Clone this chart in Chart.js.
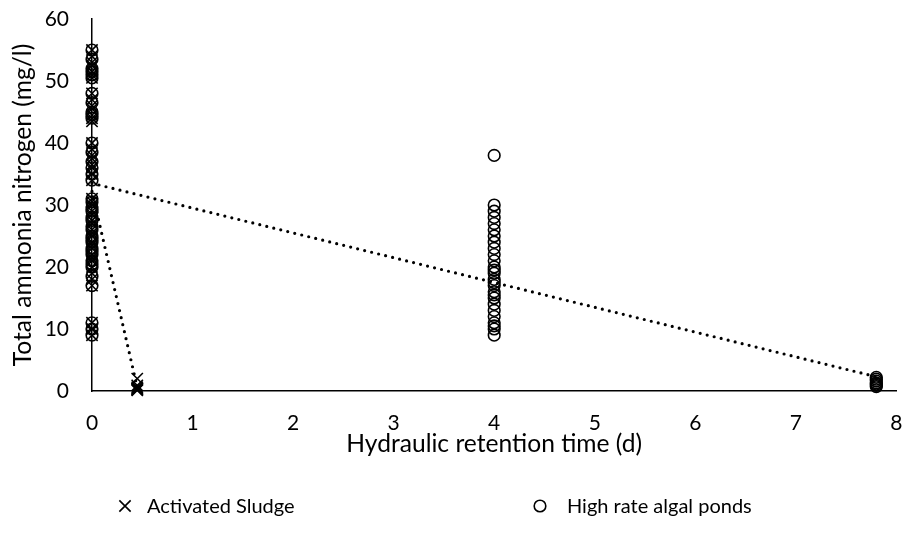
<!DOCTYPE html>
<html>
<head>
<meta charset="utf-8">
<script src="https://cdn.jsdelivr.net/npm/chart.js@4/dist/chart.umd.min.js"></script>
<style>
  html, body { margin: 0; padding: 0; background: #fff; }
  #wrap { width: 906px; height: 533px; }
</style>
</head>
<body>
<div id="wrap"><canvas id="c" width="906" height="533"></canvas></div>
<script>
// Hydraulic retention times (d) of each sampling point
const asHrt = [0, 0.45];
const hrapHrt = [0, 4, 7.8];

// Total ammonia nitrogen (mg/l), activated sludge
const asInfluent = [55, 54, 53, 52.5, 51.5, 51, 50.5, 48, 47, 46, 45.5, 44.5, 44, 43.5,
                    40, 39, 38, 37.5, 36.5, 36, 35, 34,
                    31, 30.5, 30, 29, 28.5, 27.5, 27, 26, 25.5, 25, 24, 23.5, 23, 22, 21.5, 21, 20, 19, 18, 17,
                    11, 10, 9];
const asEffluent = [2.0, 0.9, 0.6, 0.4, 0.3, 0.2, 0.1];

// Total ammonia nitrogen (mg/l), high rate algal ponds
const hrapInfluent = [55, 53.5, 52, 51.5, 51, 50.5, 48, 46.5, 45, 44.5, 44,
                      40, 38.5, 37, 36, 35, 34,
                      31, 30.5, 29.5, 29, 28, 27.5, 26.5, 26, 25, 24.5, 24, 23, 22.5, 22, 21, 20.5, 20, 18.5, 17,
                      11, 10, 9];
const hrapMid = [38, 30, 29, 28, 27, 26, 25, 24, 23, 22, 21, 20, 19.5, 19, 18, 17.5, 17, 16, 15.5, 15, 14, 13, 12, 11, 10.5, 10, 9];
const hrapEffluent = [2.2, 1.9, 1.6, 1.3, 1.1, 0.9, 0.7];

// Linear trend end points (value at first and last HRT)
const asTrend = [32.2, 0.6];
const hrapTrend = [33.5, 2.3];

// Axis ticks
const xTicks = [0, 1, 2, 3, 4, 5, 6, 7, 8];
const yTicks = [0, 10, 20, 30, 40, 50, 60];

const seriesNames = ['Activated Sludge', 'High rate algal ponds'];
const FONT = 'Lato, "Open Sans", sans-serif';
const INK = '#000';

const pts = (xv, arr) => arr.map(v => ({ x: xv, y: v }));

const asPoints = [...pts(asHrt[0], asInfluent), ...pts(asHrt[1], asEffluent)];
const hrapPoints = [...pts(hrapHrt[0], hrapInfluent), ...pts(hrapHrt[1], hrapMid), ...pts(hrapHrt[2], hrapEffluent)];

const trendStyle = {
  type: 'line',
  borderColor: INK,
  borderWidth: 3.2,
  borderDash: [0, 7.2],
  borderCapStyle: 'round',
  pointRadius: 0,
  fill: false,
  order: 0,
  clip: false
};

// Legend drawn below the x-axis title
const bottomLegend = {
  id: 'bottomLegend',
  afterDraw(chart) {
    const ctx = chart.ctx;
    const y = 506;
    const items = [
      { style: 'crossRot', r: 8, mx: 125, tx: 147, text: seriesNames[0] },
      { style: 'circle', r: 5.8, mx: 540, tx: 567, text: seriesNames[1] }
    ];
    ctx.save();
    items.forEach(it => {
      ctx.strokeStyle = INK;
      ctx.fillStyle = 'rgba(0,0,0,0)';
      ctx.lineWidth = 1.6;
      Chart.helpers.drawPoint(ctx, { pointStyle: it.style, radius: it.r, borderWidth: 1.6, rotation: 0 }, it.mx, y);
      ctx.fillStyle = INK;
      ctx.font = '20px ' + FONT;
      ctx.textAlign = 'left';
      ctx.textBaseline = 'middle';
      ctx.fillText(it.text, it.tx, y + 1);
    });
    ctx.restore();
  }
};

new Chart(document.getElementById('c'), {
  type: 'scatter',
  data: {
    datasets: [
      {
        label: seriesNames[0],
        data: asPoints,
        pointStyle: 'crossRot',
        pointRadius: 8,
        pointBorderWidth: 1.6,
        pointBorderColor: INK,
        pointBackgroundColor: 'rgba(0,0,0,0)',
        order: 1,
        clip: false
      },
      {
        label: seriesNames[1],
        data: hrapPoints,
        pointStyle: 'circle',
        pointRadius: 5.8,
        pointBorderWidth: 1.6,
        pointBorderColor: INK,
        pointBackgroundColor: 'rgba(0,0,0,0)',
        order: 1,
        clip: false
      },
      Object.assign({ label: 'trend AS', data: [{ x: asHrt[0], y: asTrend[0] }, { x: asHrt[1], y: asTrend[1] }] }, trendStyle),
      Object.assign({ label: 'trend HRAP', data: [{ x: hrapHrt[0], y: hrapTrend[0] }, { x: hrapHrt[2], y: hrapTrend[1] }] }, trendStyle)
    ]
  },
  options: {
    responsive: false,
    animation: false,
    devicePixelRatio: 1,
    layout: { padding: { left: 0, top: 19, right: 9, bottom: 0 } },
    plugins: { legend: { display: false }, tooltip: { enabled: false } },
    scales: {
      x: {
        type: 'linear',
        min: xTicks[0],
        max: xTicks[xTicks.length - 1],
        afterBuildTicks: s => { s.ticks = xTicks.map(v => ({ value: v })); },
        afterFit: s => { s.height = 142; s.paddingLeft = 0; s.paddingRight = 0; },
        grid: { display: false, drawTicks: false },
        border: { display: true, color: INK, width: 1.5 },
        ticks: { color: INK, font: { family: FONT, size: 21 }, padding: 20, maxRotation: 0 },
        title: {
          display: true,
          text: 'Hydraulic retention time (d)',
          color: INK,
          font: { family: FONT, size: 24.6 },
          padding: { top: 0, bottom: 74 }
        }
      },
      y: {
        type: 'linear',
        min: yTicks[0],
        max: yTicks[yTicks.length - 1],
        afterBuildTicks: s => { s.ticks = yTicks.map(v => ({ value: v })); },
        afterFit: s => { s.width = 92; s.paddingTop = 0; s.paddingBottom = 0; },
        grid: { display: false, drawTicks: false },
        border: { display: true, color: INK, width: 1.5 },
        ticks: { color: INK, font: { family: FONT, size: 21 }, padding: 23 },
        title: {
          display: true,
          text: 'Total ammonia nitrogen (mg/l)',
          color: INK,
          font: { family: FONT, size: 24.6 },
          padding: { top: 8, bottom: 0 }
        }
      }
    }
  },
  plugins: [bottomLegend]
});
</script>
</body>
</html>
